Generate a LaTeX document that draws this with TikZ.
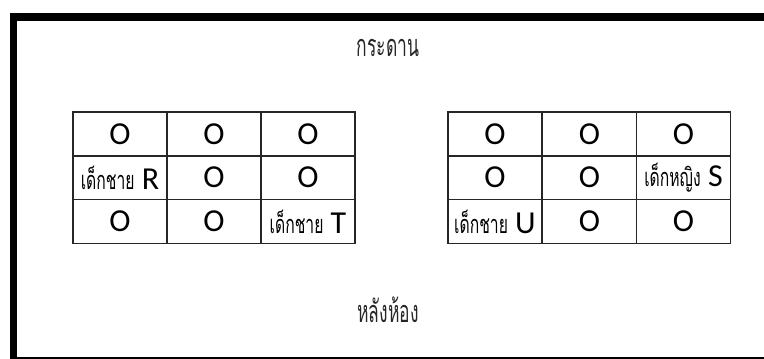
\documentclass[tikz,border=0pt]{standalone}
\usepackage{fontspec}
\setmainfont{Carlito}
\newfontfamily\thaifont[Script=Thai,FakeStretch=0.62]{Loma}
\newfontfamily\thaititle[Script=Thai,FakeStretch=0.57]{Loma}
\newcommand{\thcell}[1]{{\thaifont\fontsize{19}{22}\selectfont #1}}
\begin{document}
\begin{tikzpicture}[x=0.75pt,y=-0.75pt,
  cell/.style={draw=black!85,line width=0.8pt,minimum width=70.5pt,minimum height=33pt,inner sep=0pt,anchor=center,text=black,font=\fontsize{24}{27}\selectfont},
  title/.style={font=\thaititle\fontsize{23}{26}\selectfont,text=black!85,inner sep=0pt}]
\useasboundingbox (0,0) rectangle (764,358);
\begin{scope}
\clip (0,0) rectangle (764,358);
\draw[line width=5.6pt] (13.5,17) rectangle (775,360.5);
\end{scope}
\node[title] (board) at (388,48) {กระดาน};
\node[title] (back) at (388,310) {หลังห้อง};
% left table
\node[cell] (a11) at (120,134) {O};
\node[cell] (a12) at (214,134) {O};
\node[cell] (a13) at (308,134) {O};
\node[cell] (a21) at (120,177.5) {\thcell{เด็กชาย} R};
\node[cell] (a22) at (214,177.5) {O};
\node[cell] (a23) at (308,177.5) {O};
\node[cell] (a31) at (120,221.5) {O};
\node[cell] (a32) at (214,221.5) {O};
\node[cell] (a33) at (308,221.5) {\thcell{เด็กชาย} T};
% right table
\node[cell] (b11) at (495,134) {O};
\node[cell] (b12) at (589.5,134) {O};
\node[cell] (b13) at (683.5,134) {O};
\node[cell] (b21) at (495,177.5) {O};
\node[cell] (b22) at (589.5,177.5) {O};
\node[cell] (b23) at (683.5,177.5) {\thcell{เด็กหญิง} S};
\node[cell] (b31) at (495,221.5) {\thcell{เด็กชาย} U};
\node[cell] (b32) at (589.5,221.5) {O};
\node[cell] (b33) at (683.5,221.5) {O};
\end{tikzpicture}
\end{document}
